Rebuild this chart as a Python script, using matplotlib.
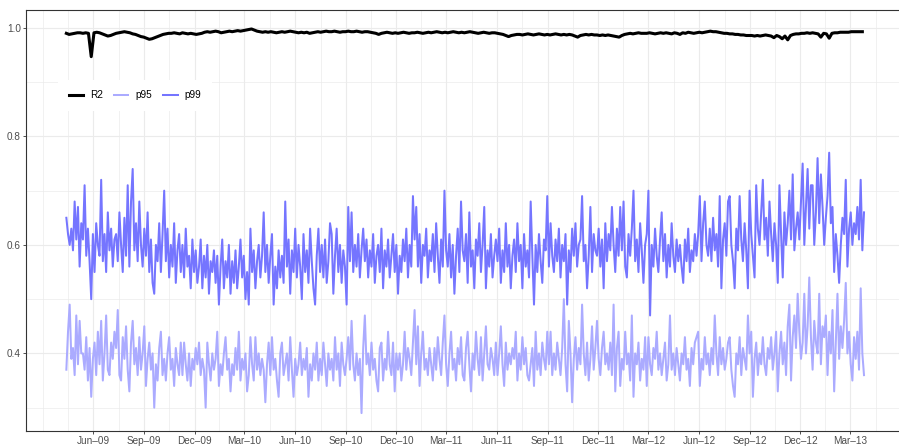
import matplotlib
matplotlib.use('Agg')
from matplotlib import pyplot as plt
import pandas as pd
import numpy as np

plt.rcParams['font.family'] = ['Liberation Sans', 'DejaVu Sans']

start_date = '2009-04-13'

# 99th percentile, one value every 3 days, ten values (30 days) per row
p99 = [
    .65, .62, .60, .63, .59, .68, .61, .67, .56, .64,
    .61, .71, .58, .63, .57, .50, .62, .55, .64, .60,
    .58, .72, .57, .62, .55, .66, .59, .63, .56, .61,
    .62, .57, .66, .60, .55, .65, .58, .71, .56, .68,
    .74, .59, .64, .57, .68, .60, .56, .63, .58, .66,
    .55, .61, .53, .51, .60, .57, .64, .55, .62, .70,
    .57, .63, .54, .60, .56, .64, .53, .59, .62, .55,
    .60, .54, .63, .56, .58, .52, .61, .55, .59, .53,
    .56, .61, .52, .58, .54, .60, .51, .57, .55, .59,
    .53, .58, .49, .56, .61, .52, .57, .54, .60, .51,
    .57, .53, .59, .52, .56, .61, .54, .58, .50, .55,
    .49, .63, .55, .59, .52, .57, .60, .54, .58, .66,
    .55, .60, .53, .58, .62, .49, .56, .52, .59, .54,
    .58, .53, .68, .56, .61, .51, .59, .55, .63, .54,
    .60, .56, .50, .62, .55, .59, .53, .63, .57, .52,
    .49, .58, .63, .55, .60, .54, .61, .53, .57, .64,
    .62, .51, .58, .63, .55, .60, .53, .59, .56, .49,
    .67, .57, .66, .55, .60, .56, .62, .54, .59, .63,
    .57, .61, .54, .59, .56, .62, .53, .58, .60, .55,
    .63, .52, .59, .56, .61, .54, .58, .62, .55, .60,
    .51, .58, .55, .61, .57, .63, .54, .60, .56, .69,
    .61, .67, .56, .62, .53, .60, .58, .63, .54, .59,
    .57, .62, .55, .64, .58, .53, .61, .56, .70, .59,
    .56, .62, .54, .60, .51, .58, .63, .55, .68, .59,
    .57, .62, .53, .66, .56, .59, .52, .61, .58, .64,
    .55, .60, .67, .52, .59, .56, .62, .54, .58, .61,
    .57, .63, .53, .59, .55, .64, .56, .60, .52, .58,
    .61, .55, .64, .57, .60, .52, .62, .56, .59, .54,
    .68, .58, .49, .60, .55, .62, .57, .53, .61, .59,
    .69, .56, .64, .58, .55, .61, .57, .63, .54, .60,
    .57, .62, .49, .59, .55, .63, .58, .64, .56, .60,
    .61, .69, .57, .60, .52, .58, .67, .55, .62, .59,
    .58, .63, .56, .61, .52, .64, .57, .62, .59, .67,
    .60, .55, .63, .58, .67, .59, .68, .56, .54, .62,
    .58, .63, .70, .57, .61, .55, .64, .59, .53, .60,
    .62, .70, .47, .60, .56, .63, .58, .55, .61, .66,
    .57, .62, .54, .60, .56, .64, .58, .55, .61, .57,
    .60, .56, .53, .61, .57, .63, .55, .59, .57, .62,
    .58, .62, .69, .57, .64, .68, .60, .58, .63, .57,
    .65, .59, .62, .56, .69, .52, .61, .64, .58, .68,
    .69, .60, .57, .52, .63, .59, .69, .61, .57, .64,
    .59, .52, .70, .62, .58, .54, .71, .63, .60, .66,
    .72, .61, .65, .58, .68, .62, .57, .64, .60, .53,
    .71, .62, .54, .66, .60, .64, .70, .61, .73, .59,
    .63, .66, .61, .68, .75, .60, .67, .74, .63, .71,
    .71, .60, .66, .76, .64, .73, .67, .60, .65, .69,
    .77, .64, .67, .55, .62, .58, .53, .60, .65, .62,
    .72, .56, .63, .66, .60, .64, .62, .67, .61, .72,
    .59, .66,
]

# 95th percentile, same dates
p95 = [
    .37, .44, .49, .39, .41, .36, .47, .38, .46, .40,
    .40, .37, .43, .35, .41, .32, .39, .42, .36, .44,
    .38, .46, .35, .40, .47, .37, .36, .42, .39, .44,
    .41, .48, .36, .35, .43, .39, .45, .37, .33, .42,
    .46, .38, .41, .36, .43, .37, .40, .45, .34, .39,
    .42, .37, .40, .30, .38, .35, .41, .44, .36, .39,
    .35, .40, .43, .37, .39, .34, .41, .38, .36, .42,
    .36, .42, .38, .35, .40, .34, .39, .37, .41, .38,
    .42, .36, .39, .37, .30, .42, .38, .35, .40, .37,
    .39, .44, .34, .38, .36, .40, .43, .37, .39, .33,
    .38, .36, .41, .37, .44, .35, .39, .37, .40, .33,
    .36, .43, .38, .35, .43, .37, .40, .36, .39, .37,
    .31, .38, .42, .36, .43, .37, .39, .35, .32, .40,
    .42, .36, .38, .40, .35, .43, .37, .32, .39, .36,
    .38, .42, .36, .39, .37, .41, .32, .38, .35, .40,
    .37, .42, .35, .39, .36, .42, .38, .34, .40, .37,
    .39, .35, .43, .37, .40, .34, .42, .38, .36, .39,
    .43, .37, .46, .38, .35, .40, .36, .39, .29, .41,
    .47, .38, .40, .36, .42, .37, .39, .35, .33, .41,
    .42, .35, .39, .37, .44, .38, .36, .42, .33, .40,
    .37, .40, .35, .38, .44, .37, .41, .39, .36, .42,
    .48, .38, .45, .34, .40, .44, .37, .39, .36, .41,
    .38, .35, .41, .37, .43, .39, .36, .42, .47, .38,
    .34, .40, .44, .37, .39, .35, .41, .38, .43, .36,
    .35, .41, .44, .38, .33, .40, .37, .44, .39, .36,
    .43, .35, .40, .45, .38, .37, .41, .39, .36, .42,
    .36, .40, .45, .38, .34, .42, .37, .40, .38, .41,
    .39, .44, .35, .40, .37, .43, .38, .41, .36, .35,
    .38, .41, .34, .44, .37, .40, .36, .42, .39, .37,
    .44, .38, .44, .36, .40, .37, .42, .39, .36, .41,
    .50, .38, .33, .46, .40, .31, .39, .43, .37, .41,
    .38, .49, .40, .36, .42, .35, .39, .45, .37, .41,
    .46, .39, .36, .41, .44, .38, .40, .37, .42, .36,
    .49, .33, .41, .44, .34, .39, .37, .44, .38, .40,
    .35, .47, .32, .40, .38, .42, .35, .39, .37, .43,
    .34, .43, .38, .36, .41, .39, .44, .37, .40, .36,
    .39, .42, .35, .38, .47, .37, .40, .36, .41, .38,
    .35, .40, .38, .43, .37, .39, .34, .41, .38, .42,
    .43, .44, .34, .39, .37, .43, .38, .40, .36, .41,
    .38, .47, .40, .36, .43, .38, .41, .37, .39, .42,
    .43, .37, .34, .32, .40, .38, .43, .36, .41, .39,
    .37, .47, .40, .44, .32, .39, .42, .36, .40, .38,
    .43, .38, .36, .41, .39, .43, .37, .40, .44, .33,
    .40, .44, .38, .42, .36, .45, .49, .35, .43, .47,
    .41, .51, .44, .39, .42, .51, .40, .45, .54, .43,
    .37, .46, .42, .40, .51, .38, .45, .43, .47, .36,
    .44, .40, .48, .33, .42, .51, .39, .45, .41, .46,
    .53, .40, .44, .38, .35, .43, .39, .44, .37, .52,
    .40, .36,
]

# R2 in thousandths, one value every 5 days
r2_milli = [
    990, 988, 989, 990, 991, 991, 990, 991, 990, 947,
    991, 992, 991, 989, 987, 985, 986, 988, 990, 991, 992, 993, 992, 991, 989, 988, 986, 984,
    983, 981, 979, 980, 982, 984, 986, 988, 989, 990, 990, 991, 990, 989, 991, 990, 989, 990,
    989, 988, 989, 990, 992, 993, 992, 993, 994, 993, 991, 992, 993, 994, 993, 994, 995, 994,
    995, 996, 997, 998, 996, 994, 993, 992, 993, 992, 993, 992, 991, 992, 993, 992, 993, 994,
    993, 992, 991, 992, 991, 992, 990, 991, 992, 993, 992, 993, 994, 993, 993, 994, 993, 992, 993,
    993, 994, 993, 993, 994, 993, 992, 993, 993, 992, 991, 990, 988, 990, 991, 992, 991, 990,
    991, 990, 991, 992, 991, 990, 991, 991, 992, 991, 990, 991, 992, 991, 992, 993, 992, 991,
    992, 991, 992, 993, 992, 991, 992, 991, 992, 993, 992, 991, 990, 991, 992, 991, 990, 991,
    991, 990, 989, 988, 986, 984, 986, 987, 988, 988, 987, 988, 989, 988, 987, 988, 989, 988, 987,
    988, 987, 988, 989, 988, 987, 988, 987, 988, 987, 985, 983, 986, 987, 988, 987, 988, 987,
    987, 986, 987, 986, 987, 986, 985, 984, 983, 986, 988, 989, 990, 989, 990, 991, 990, 990,
    990, 991, 990, 989, 990, 991, 990, 991, 990, 989, 991, 990, 988, 991, 990, 992, 991, 990,
    991, 992, 991, 992, 993, 994, 993, 993, 992, 991, 990, 990, 989, 989, 988, 988, 987, 987, 986,
    986, 986, 985, 986, 985, 986, 987, 986, 985, 982, 986, 984, 980, 985, 978, 986, 988, 989,
    989, 990, 990, 991, 990, 991, 990, 989, 983, 990, 989, 981, 990, 991, 991, 992, 992, 992,
    992, 993, 993, 993, 993, 993,
]

r2 = np.array(r2_milli) / 1000.0
pct_dates = pd.date_range(start_date, periods=len(p99), freq='3D')
r2_dates = pd.date_range(start_date, periods=len(r2), freq='5D')

# axis breaks
major_dates = pd.date_range('2009-06-01', '2013-03-01', freq='3MS')
major_labels = [d.strftime('%b') + '\u2013' + d.strftime('%y') for d in major_dates]
quarter_edges = pd.date_range('2009-03-01', '2013-06-01', freq='3MS')
minor_dates = [quarter_edges[0]] + [a + (b - a) / 2 for a, b in zip(quarter_edges[:-1], quarter_edges[1:])]

grid_col = '#EBEBEB'
axis_col = '#333333'

fig = plt.figure(figsize=(8.99, 4.46), dpi=100)
# panel runs past the right edge of the picture, as in the original crop
ax = fig.add_axes([26 / 899, 15 / 446, 877.8 / 899, 421 / 446])

l_p95, = ax.plot(pct_dates, p95[:len(pct_dates)], color='#ABABFF', lw=1.45, label='p95', zorder=2)
l_p99, = ax.plot(pct_dates, p99, color='#7575FF', lw=1.45, label='p99', zorder=3)
l_r2, = ax.plot(r2_dates, r2, color='black', lw=2.2, label='R2', zorder=4)

ax.set_xlim(pd.Timestamp('2009-01-30'), pd.Timestamp('2013-06-06'))
ax.set_ylim(0.257, 1.033)

ax.set_xticks(major_dates)
ax.set_xticklabels(major_labels)
ax.set_xticks(minor_dates, minor=True)
ax.set_yticks([0.4, 0.6, 0.8, 1.0])
ax.set_yticklabels(['0.4', '0.6', '0.8', '1.0'])
ax.set_yticks([0.3, 0.5, 0.7, 0.9], minor=True)

ax.grid(which='major', color=grid_col, lw=0.8)
ax.grid(which='minor', color=grid_col, lw=0.5)
ax.set_axisbelow(True)

ax.tick_params(which='major', direction='out', length=2.2, width=0.6, color=axis_col,
               labelsize=7.2, labelcolor='#4D4D4D', pad=1.5)
ax.tick_params(which='minor', length=0)

for side in ['left', 'bottom', 'top']:
    ax.spines[side].set_color(axis_col)
    ax.spines[side].set_linewidth(0.8)
ax.spines['right'].set_visible(False)

leg = ax.legend(handles=[l_r2, l_p95, l_p99], ncol=3, loc='center',
                bbox_to_anchor=(135 / 899, 1 - 95 / 446), bbox_transform=fig.transFigure,
                frameon=True, fancybox=False, framealpha=1, facecolor='white',
                edgecolor='none', fontsize=7.2, handlelength=1.45, handletextpad=0.7,
                columnspacing=1.1, borderpad=1.05)
leg.set_zorder(5)

fig.savefig('out.png', dpi=100)
